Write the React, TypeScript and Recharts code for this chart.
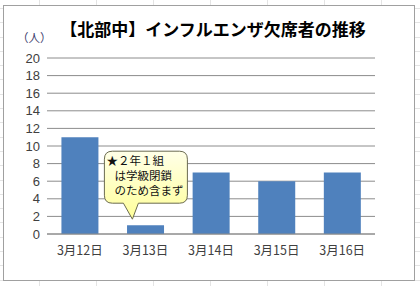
import React from "react";
import { BarChart, Bar, XAxis, YAxis, CartesianGrid, ReferenceDot } from "recharts";

const categories = ["3月12日", "3月13日", "3月14日", "3月15日", "3月16日"];
const absences = [11, 1, 7, 6, 7];
const yTicks = [0, 2, 4, 6, 8, 10, 12, 14, 16, 18, 20];
const titleText = "【北部中】インフルエンザ欠席者の推移";
const unitText = "（人）";
const calloutLines = ["★２年１組", "は学級閉鎖", "のため含まず"];
const calloutIndents = [0, 8, 8];
const calloutCategory = "3月13日";
const calloutValue = 1;

const data = categories.map((c, i) => ({ name: c, value: absences[i] }));

const FONT = "'Noto Sans CJK JP', 'Liberation Sans', sans-serif";

const Callout = (props: any) => {
  const { cx, cy } = props;
  if (cx == null || cy == null) return null;
  const tipX = cx - 13;
  const tipY = cy - 6;
  const left = cx - 41;
  const right = cx + 42;
  const top = cy - 74;
  const bottom = cy - 22;
  const r = 8;
  const b1 = cx - 22;
  const b2 = cx - 7;
  const d = `M${left + r},${top} L${right - r},${top} Q${right},${top} ${right},${top + r} L${right},${bottom - r} Q${right},${bottom} ${right - r},${bottom} L${b2},${bottom} L${tipX},${tipY} L${b1},${bottom} L${left + r},${bottom} Q${left},${bottom} ${left},${bottom - r} L${left},${top + r} Q${left},${top} ${left + r},${top} Z`;
  return (
    <g>
      <defs>
        <linearGradient id="calloutGrad" x1="0" y1="0" x2="0" y2="1">
          <stop offset="0%" stopColor="#ffffe8" />
          <stop offset="100%" stopColor="#ffff99" />
        </linearGradient>
      </defs>
      <path d={d} fill="url(#calloutGrad)" stroke="#6b6b50" strokeWidth={1} />
      {calloutLines.map((t, i) => (
        <text
          key={i}
          x={left + 2 + calloutIndents[i]}
          y={top + 14 + i * 15}
          fontSize={11.5}
          fontFamily={FONT}
          fill="#111"
        >
          {t}
        </text>
      ))}
    </g>
  );
};

export default function App() {
  const sheetBg: React.CSSProperties = {
    position: "absolute",
    left: 0,
    top: 0,
    width: 420,
    height: 286,
    background: "#ffffff",
    backgroundImage:
      "repeating-linear-gradient(to right, transparent 0px, transparent 39px, #e4e4e4 39px, #e4e4e4 40px, transparent 40px, transparent 57px), repeating-linear-gradient(to bottom, transparent 0px, transparent 8px, #e4e4e4 8px, #e4e4e4 9px, transparent 9px, transparent 14.3px)",
    overflow: "hidden",
  };
  return (
    <div style={sheetBg}>
      <div
        style={{
          position: "absolute",
          left: 3,
          top: 5,
          width: 412,
          height: 276,
          border: "1px solid #a0a0a0",
          background: "#ffffff",
          boxSizing: "border-box",
        }}
      />
      <div style={{ position: "absolute", left: 0, top: 0 }}>
        <BarChart
          width={420}
          height={286}
          data={data}
          margin={{ top: 58, right: 45, bottom: 24, left: 0 }}
          barCategoryGap="22%"
        >
          <CartesianGrid vertical={false} stroke="#8c8c8c" strokeWidth={1} />
          <XAxis
            dataKey="name"
            axisLine={{ stroke: "#8c8c8c" }}
            tickLine={false}
            height={28}
            tickMargin={6}
            tick={{ fontSize: 12.5, fill: "#404040", fontFamily: FONT }}
            interval={0}
          />
          <YAxis
            domain={[0, 20]}
            ticks={yTicks}
            width={47}
            axisLine={false}
            tickLine={false}
            tickSize={0}
            tickMargin={7}
            interval={0}
            tick={{ fontSize: 13, fill: "#404040", fontFamily: "'Liberation Sans', sans-serif" }}
          />
          <Bar dataKey="value" fill="#4f81bd" isAnimationActive={false} />
          <ReferenceDot
            x={calloutCategory}
            y={calloutValue}
            r={0}
            isFront
            shape={(p: any) => <Callout {...p} />}
          />
          <text
            x={213}
            y={36}
            textAnchor="middle"
            fontSize={17}
            fontWeight="bold"
            fontFamily={FONT}
            fill="#000"
          >
            {titleText}
          </text>
          <text x={17} y={42} fontSize={11.5} fontFamily={FONT} fill="#3a3a6a">
            {unitText}
          </text>
        </BarChart>
      </div>
    </div>
  );
}
